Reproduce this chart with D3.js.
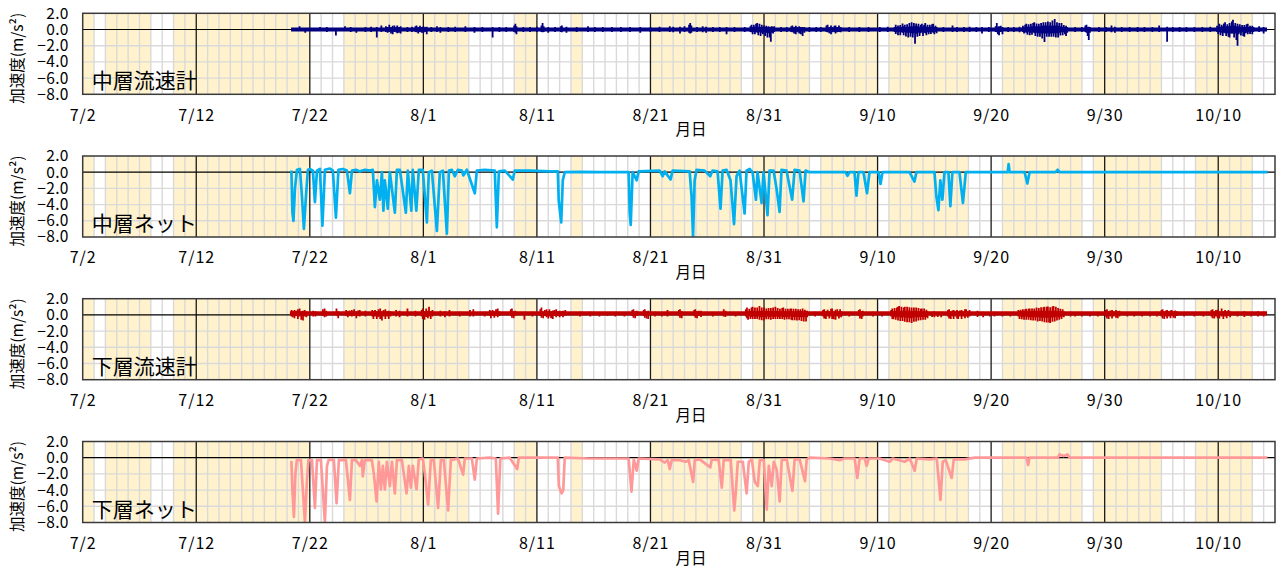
<!DOCTYPE html>
<html><head><meta charset="utf-8">
<script src="https://cdn.jsdelivr.net/npm/d3@7"></script>
<style>
body{margin:0;background:#fff}
svg{display:block}
text{font-family:"Noto Sans CJK JP","Noto Sans",sans-serif;fill:#000}
</style>
</head><body>
<svg id="chart" width="1278" height="568"></svg>
<script>
// ---------- data ----------
const tickLabels = ["7/2","7/12","7/22","8/1","8/11","8/21","8/31","9/10","9/20","9/30","10/10"];
const tickDates  = ["7/2","7/12","7/22","8/1","8/11","8/21","8/31","9/10","9/20","9/30","10/10"];
const domainDates = ["7/2","10/15"];
const yTicks = [2,0,-2,-4,-6,-8];
const panelNames = ["中層流速計","中層ネット","下層流速計","下層ネット"];
const seriesColors = ["#000080","#00B0F0","#C00000","#FF9999"];
const yTitle = "加速度(m/s²)";
const xTitle = "月日";

// shaded periods (start/end dates)
const shadeStart = ["7/2","7/4","7/10","7/25","8/9","8/14","8/21","8/30","9/5","9/11","9/21","9/29","10/8"];
const shadeEnd   = ["7/3","7/8","7/22","8/5","8/11","8/15","8/29","9/4","9/10","9/18","9/28","10/5","10/13"];

// time = days since 7/2 00:00
// 中層流速計 : record span, base level, [day, max, min] of the fluctuation
const midMeterSpan = [18.35, 104.3];
const midMeterBase = 0.0;
const midMeterRange = [[19.1,0.4,-0.2],[19.6,0.2,-0.4],[20.9,0.3,-0.2],[21.5,0.3,-0.3],[22.3,0.2,-0.75],[23.1,0.4,-0.2],[23.6,0.3,-0.3],[24.1,0.2,-0.4],[24.9,0.3,-0.3],[25.4,0.35,-0.3],[25.9,0.3,-1.0],[26.3,0.5,-0.3],
[26.7,0.4,-0.3],[26.85,0.3,-0.4],[27.0,0.6,-0.3],[27.15,0.3,-0.5],[27.3,0.45,-0.6],[27.45,0.5,-0.3],[27.6,0.3,-0.35],[27.7,0.5,-0.45],[27.85,0.3,-0.4],[28.0,0.4,-0.5],
[28.6,0.3,-0.3],[29.0,0.35,-0.3],
[29.3,0.4,-0.3],[29.4,0.5,-0.35],[29.55,0.3,-0.5],[29.7,0.45,-0.3],[29.85,0.3,-0.4],[30.0,0.4,-0.45],[30.15,0.3,-0.3],[30.3,0.35,-0.6],
[30.7,0.3,-0.3],[31.2,0.4,-0.3],[31.5,0.3,-0.4],[32.2,0.3,-0.3],[32.8,0.35,-0.3],[33.7,0.4,-0.3],[34.5,0.3,-0.4],[35.2,0.3,-0.3],[36.1,0.3,-1.0],[36.7,0.3,-0.3],[37.3,0.3,-0.3],[38.0,0.5,-0.3],[38.1,0.7,-0.4],[38.2,0.4,-0.6],[38.8,0.3,-0.3],[39.4,0.3,-0.3],[40.0,0.35,-0.3],[40.4,0.5,-0.3],[40.5,0.8,-0.35],[40.6,0.4,-0.3],[41.0,0.3,-0.4],[41.6,0.3,-0.3],[42.1,0.4,-0.3],[42.2,0.5,-0.35],[42.6,0.35,-0.4],[43.5,0.3,-0.3],[44.5,0.4,-0.3],[45.1,0.3,-0.3],[45.8,0.3,-0.3],[46.6,0.3,-0.3],[47.4,0.3,-0.3],[48.2,0.3,-0.3],[49.1,0.3,-0.4],[50.0,0.3,-0.3],[50.8,0.35,-0.3],[51.7,0.4,-0.3],[52.0,0.35,-0.35],[52.6,0.35,-0.5],[53.0,0.4,-0.3],[53.4,0.6,-0.4],[53.5,0.8,-0.5],[53.6,0.5,-0.4],[54.1,0.3,-0.3],[54.6,0.4,-0.35],[54.9,0.35,-0.4],[55.5,0.3,-0.3],[56.1,0.3,-0.3],[56.7,0.3,-0.6],[57.4,0.3,-0.3],[58.3,0.3,-0.3],
[58.8,0.4,-0.3],[58.9,0.6,-0.35],[59.0,0.3,-0.6],[59.1,0.6,-0.3],[59.2,0.35,-0.6],[59.3,0.7,-0.3],[59.4,0.8,-0.4],[59.5,0.35,-0.7],[59.6,0.7,-0.35],[59.7,0.3,-0.8],[59.8,0.6,-0.4],[59.9,0.35,-0.6],[60.0,0.5,-0.35],[60.1,0.3,-0.8],[60.2,0.45,-0.4],[60.3,0.3,-1.0],[60.4,0.4,-0.45],[60.5,0.3,-1.0],[60.6,0.35,-1.5],[60.7,0.4,-0.4],[60.8,0.3,-0.5],[60.9,0.4,-0.3],
[61.5,0.3,-0.3],[62.0,0.3,-0.3],
[62.4,0.4,-0.3],[62.5,0.5,-0.35],[62.65,0.3,-0.5],[62.8,0.45,-0.6],[62.95,0.3,-0.35],[63.1,0.4,-0.5],[63.25,0.3,-0.6],[63.4,0.3,-0.8],[63.55,0.3,-0.4],
[64.0,0.3,-0.3],[64.6,0.3,-0.3],[65.0,0.3,-0.3],
[65.5,0.5,-0.3],[65.6,0.6,-0.35],[65.75,0.3,-0.45],[65.9,0.5,-0.6],[66.05,0.3,-0.35],[66.2,0.45,-0.3],[66.3,0.5,-0.5],[66.45,0.3,-0.35],[66.6,0.5,-0.3],[66.75,0.3,-0.35],
[67.5,0.3,-0.3],[68.4,0.3,-0.3],[69.2,0.3,-0.3],[70.2,0.3,-0.3],[70.9,0.35,-0.3],
[71.5,0.3,-0.3],[71.6,0.6,-0.55],[71.7,0.3,-0.35],[71.8,0.5,-0.7],[71.9,0.35,-0.3],[72.0,0.55,-0.7],[72.1,0.3,-0.35],[72.2,0.75,-0.4],[72.3,0.4,-0.7],[72.4,0.6,-0.35],[72.5,0.3,-0.85],[72.6,0.65,-0.4],[72.7,0.35,-1.0],[72.8,0.8,-0.4],[72.9,0.4,-0.9],[73.0,0.9,-0.45],[73.1,0.4,-1.0],[73.2,0.8,-0.5],[73.3,0.45,-1.75],[73.4,0.75,-0.5],[73.5,0.4,-0.9],[73.6,0.7,-0.4],[73.7,0.35,-0.8],[73.8,0.6,-0.45],[73.9,0.7,-0.35],[74.0,0.4,-0.8],[74.1,0.6,-0.4],[74.2,0.8,-0.45],[74.3,0.35,-0.7],[74.4,0.6,-0.35],[74.5,0.3,-0.6],[74.6,0.6,-0.35],[74.7,0.35,-0.55],[74.8,0.65,-0.3],[74.9,0.7,-0.4],[75.0,0.3,-0.6],[75.1,0.45,-0.3],[75.2,0.3,-0.45],
[75.8,0.3,-0.3],[76.6,0.5,-0.3],[77.0,0.3,-0.3],[77.6,0.3,-0.3],[78.1,0.35,-0.3],[78.7,0.3,-0.3],[79.2,0.3,-0.5],[79.8,0.3,-0.3],
[80.4,0.4,-0.3],[80.5,0.8,-0.35],[80.6,0.35,-0.6],[80.7,0.4,-0.7],[80.85,0.45,-0.3],[81.0,0.3,-0.6],
[81.5,0.3,-0.3],[82.0,0.3,-0.3],[82.5,0.35,-0.35],
[82.8,0.45,-0.3],[82.9,0.3,-0.5],[83.0,0.6,-0.35],[83.1,0.7,-0.4],[83.2,0.35,-0.65],[83.3,0.65,-0.35],[83.4,0.35,-0.7],[83.5,0.7,-0.4],[83.6,0.4,-0.65],[83.7,0.8,-0.35],[83.8,0.9,-0.45],[83.9,0.4,-0.8],[84.0,0.75,-0.4],[84.1,0.4,-0.9],[84.2,0.7,-0.45],[84.3,0.4,-0.9],[84.4,0.8,-0.5],[84.5,0.45,-1.1],[84.6,0.9,-0.5],[84.7,0.5,-1.55],[84.8,0.9,-0.5],[84.9,0.5,-0.9],[85.0,1.0,-0.45],[85.1,0.5,-0.9],[85.2,0.9,-0.5],[85.3,0.45,-0.9],[85.4,1.1,-0.45],[85.5,0.5,-0.9],[85.6,1.3,-0.5],[85.7,0.5,-1.0],[85.8,0.9,-0.45],[85.9,0.45,-1.0],[86.0,0.8,-0.4],[86.1,0.4,-0.75],[86.2,0.8,-0.35],[86.3,0.35,-0.7],[86.4,0.55,-0.35],[86.5,0.3,-0.6],[86.6,0.45,-0.8],[86.7,0.3,-0.4],
[87.4,0.3,-0.3],[88.0,0.3,-0.3],[88.3,0.5,-0.3],[88.4,0.6,-0.4],[88.5,0.3,-0.8],[88.6,0.35,-1.3],[88.7,0.3,-0.4],
[89.5,0.3,-0.3],[90.1,0.3,-0.3],[90.6,0.5,-0.35],[90.9,0.35,-0.4],[91.5,0.3,-0.3],[92.2,0.3,-0.3],[92.9,0.3,-0.3],[93.5,0.3,-0.3],[94.2,0.3,-0.3],[94.8,0.5,-0.3],[95.5,0.35,-1.5],[96.0,0.3,-0.3],[96.6,0.3,-0.3],[97.2,0.3,-0.3],[97.9,0.3,-0.3],[98.6,0.3,-0.3],[99.3,0.35,-0.3],
[99.9,0.45,-0.3],[100.0,0.3,-0.55],[100.1,0.7,-0.35],[100.2,0.35,-0.7],[100.3,0.6,-0.4],[100.4,0.4,-0.8],[100.5,0.75,-0.4],[100.6,0.9,-0.45],[100.7,0.4,-0.8],[100.8,0.65,-0.45],[100.9,0.4,-0.9],[101.0,0.8,-1.0],[101.1,0.45,-0.5],[101.2,1.0,-0.5],[101.3,1.2,-0.5],[101.4,0.5,-1.0],[101.5,0.8,-0.5],[101.6,0.4,-1.3],[101.7,0.7,-2.0],[101.8,0.4,-0.6],[101.9,0.65,-0.4],[102.0,0.35,-0.75],[102.1,0.55,-0.35],[102.2,0.3,-0.8],[102.3,0.55,-0.9],[102.4,0.35,-0.45],[102.5,0.65,-0.4],[102.6,0.7,-0.6],[102.7,0.3,-0.35],[102.8,0.45,-0.55],[102.9,0.3,-0.3],[103.0,0.45,-0.6],[103.1,0.3,-0.3],
[103.6,0.4,-0.3],[104.0,0.3,-0.5]];

// 中層ネット : [day, m/s2]
const midNet = [[18.38,0.2],[18.47,-5.0],[18.56,-6.0],[18.69,-2.0],[18.87,0.3],[19.13,0.4],[19.31,-3.0],[19.48,-7.0],[19.66,-3.0],[19.83,0.3],[20.01,0.4],[20.27,0.2],[20.45,-3.7],[20.63,0.2],[20.89,0.4],[21.11,-6.6],[21.33,0.3],[21.77,0.45],[22.03,0.2],[22.30,-5.6],[22.52,0.3],[22.91,0.4],[23.27,0.2],[23.53,-2.6],[23.71,0.2],[24.06,0.3],[24.41,0.1],[24.85,0.3],[25.29,0.2],[25.55,0.3],[25.73,-4.3],[25.91,-1.0],[26.17,-3.4],[26.35,0.0],[26.48,-4.75],[26.61,-1.0],[26.87,-4.5],[27.05,0.0],[27.49,-5.0],[27.67,0.3],[27.93,0.3],[28.46,-5.0],[28.63,0.2],[28.94,-4.75],[29.07,0.3],[29.38,-4.75],[29.60,0.3],[29.95,0.3],[30.31,-6.2],[30.48,0.0],[30.75,0.2],[31.19,-7.25],[31.45,0.0],[31.72,0.2],[32.07,-7.6],[32.25,0.2],[32.51,0.3],[32.77,-0.5],[33.04,0.3],[33.39,0.2],[33.52,-0.4],[33.83,0.3],[34.53,-2.6],[34.71,0.2],[35.41,0.3],[36.29,0.2],[36.47,-6.8],[36.65,0.1],[37.17,0.2],[37.88,-0.9],[38.05,0.2],[39.37,0.2],[41.13,0.1],[41.84,0.1],[41.92,-3.5],[42.14,-6.2],[42.28,-1.0],[42.45,0.0],[43.77,0.05],[45.53,0.0],[48.08,0.0],[48.17,-5.0],[48.26,-6.5],[48.43,0.0],[48.79,-1.0],[48.96,0.1],[50.81,0.2],[51.07,-0.5],[51.25,0.1],[51.77,-0.9],[51.95,0.2],[53.45,0.1],[53.62,-3.0],[53.75,-8.0],[53.89,-1.0],[54.06,0.3],[54.77,0.2],[55.26,-0.5],[55.47,0.2],[55.91,0.1],[56.17,-4.5],[56.35,0.2],[56.70,0.3],[57.05,-1.0],[57.36,-6.4],[57.58,-0.5],[57.85,0.2],[58.29,-5.1],[58.46,0.2],[58.73,0.4],[58.99,0.0],[59.29,-3.4],[59.43,0.0],[59.79,-3.8],[59.96,0.0],[60.31,-5.3],[60.49,0.2],[60.84,0.2],[61.10,-2.0],[61.37,-4.9],[61.54,0.3],[61.98,0.2],[62.48,-3.4],[62.69,0.3],[63.13,0.2],[63.48,-3.6],[63.66,0.2],[64.01,0.0],[67.18,0.0],[67.35,-0.45],[67.53,0.0],[67.97,0.0],[68.14,-2.9],[68.32,0.0],[68.76,0.0],[69.07,-2.6],[69.29,0.0],[70.08,0.0],[70.26,-1.45],[70.43,0.0],[72.81,0.0],[73.25,-1.15],[73.42,0.0],[75.01,0.0],[75.18,-3.0],[75.36,-4.7],[75.53,-1.0],[75.71,-3.4],[75.89,0.0],[76.24,0.0],[76.41,-4.2],[76.59,0.0],[77.21,0.0],[77.52,-3.8],[77.77,0.0],[81.46,0.0],[81.54,1.0],[81.63,0.0],[82.95,0.0],[83.19,-1.4],[83.39,0.0],[85.68,0.0],[85.86,0.3],[86.03,0.0],[104.34,0.0]];

// 下層流速計 : record span, base level, [day, max, min] of the fluctuation
const lowMeterSpan = [18.25, 104.3];
const lowMeterBase = 0.2;
const lowMeterRange = [[18.4,0.6,-0.2],[18.5,0.45,-0.3],[18.65,0.6,-0.4],[18.8,0.5,-0.15],[18.95,0.7,-0.5],[19.1,0.8,-0.2],[19.25,0.45,-0.6],[19.4,0.5,-0.7],[19.55,0.6,-0.2],[19.7,0.45,-0.3],
[20.3,0.5,-0.2],[20.5,0.45,-0.2],[21.15,0.7,-0.15],[21.3,0.8,-0.3],[21.45,0.5,-0.2],[22.35,0.8,-0.15],[22.5,0.45,-0.4],
[23.2,0.6,-0.15],[23.35,0.45,-0.3],[23.5,0.55,-0.15],[23.7,0.6,-0.2],[23.9,0.7,-0.15],[24.1,0.45,-0.4],[24.25,0.55,-0.15],[24.4,0.6,-0.2],[24.9,0.5,-0.2],
[25.5,0.6,-0.2],[25.6,0.45,-0.5],[25.75,0.6,-0.2],[25.9,0.45,-0.5],[26.05,0.7,-0.25],[26.2,0.8,-0.5],[26.35,0.45,-0.7],[26.5,0.6,-0.2],[26.65,0.7,-0.5],[26.8,0.45,-0.2],[26.95,0.5,-0.5],[27.1,0.45,-0.2],
[27.6,0.6,-0.2],[27.9,0.5,-0.3],[28.6,0.8,-0.2],[29.3,0.5,-0.2],
[29.85,0.6,-0.2],[29.95,0.8,-0.5],[30.1,0.45,-0.6],[30.25,0.8,-0.25],[30.4,0.5,-0.4],[30.5,1.0,-0.2],[30.65,0.45,-0.5],[30.8,0.6,-0.2],
[31.5,0.5,-0.2],[31.9,0.45,-0.3],[32.3,0.6,-0.2],[33.2,0.4,-0.2],[34.1,0.6,-0.2],[34.4,0.7,-0.2],[35.4,0.4,-0.2],
[35.85,0.6,-0.15],[35.95,0.45,-0.4],[36.1,0.6,-0.15],[36.25,0.45,-0.35],[36.4,0.7,-0.15],[36.55,0.8,-0.3],[36.7,0.45,-0.15],
[37.7,0.7,-0.15],[37.8,0.8,-0.35],[37.95,0.45,-0.4],[38.1,0.5,-0.15],[38.9,0.4,-0.6],[39.6,0.4,-0.2],
[40.3,0.7,-0.15],[40.4,0.9,-0.35],[40.55,0.45,-0.4],[40.7,0.6,-0.15],[40.85,0.7,-0.3],[41.0,0.45,-0.45],[41.1,0.7,-0.2],[41.25,0.45,-0.4],[41.4,0.55,-0.5],[41.55,0.6,-0.15],[41.7,0.7,-0.3],[41.85,0.45,-0.15],[42.0,0.5,-0.3],[42.15,0.45,-0.15],[42.3,0.5,-0.3],[42.5,0.6,-0.15],
[43.8,0.4,-0.2],[44.7,0.4,-0.2],[45.5,0.3,-0.2],[46.2,0.35,-0.15],[46.9,0.35,-0.2],[47.7,0.3,-0.2],
[48.4,0.6,-0.15],[48.5,0.7,-0.35],[48.65,0.45,-0.4],[48.8,0.5,-0.15],[49.4,0.6,-0.15],[49.5,0.7,-0.35],[49.65,0.45,-0.45],[49.8,0.5,-0.5],
[50.4,0.4,-0.2],[51.0,0.35,-0.2],[51.5,0.6,-0.2],
[52.5,0.6,-0.15],[52.6,0.7,-0.35],[52.75,0.45,-0.4],[53.85,0.6,-0.15],[53.95,0.7,-0.35],[54.1,0.45,-0.4],[54.25,0.5,-0.15],[54.45,0.5,-0.25],
[55.5,0.35,-0.2],[56.45,0.7,-0.2],[56.6,0.5,-0.25],[57.5,0.35,-0.2],
[58.4,0.7,-0.2],[58.5,0.9,-0.4],[58.6,0.45,-0.6],[58.7,0.75,-0.2],[58.8,0.5,-0.5],[58.9,0.9,-0.25],[59.0,1.0,-0.5],[59.1,0.5,-0.2],[59.2,0.9,-0.5],[59.3,0.45,-0.25],[59.4,0.9,-0.5],[59.5,0.5,-0.2],[59.6,1.1,-0.6],[59.7,0.5,-0.3],[59.8,0.9,-0.65],[59.9,0.5,-0.25],[60.0,0.9,-0.7],[60.1,0.45,-0.3],[60.2,0.8,-0.55],[60.3,0.5,-0.2],[60.4,0.85,-0.55],[60.5,0.45,-0.25],[60.6,0.85,-0.6],[60.7,0.5,-0.2],[60.8,0.9,-0.5],[60.9,0.45,-0.25],[61.0,1.0,-0.5],[61.1,0.5,-0.2],[61.2,0.85,-0.5],[61.3,0.45,-0.25],[61.4,0.75,-0.5],[61.5,0.45,-0.2],[61.6,0.85,-0.5],[61.7,0.9,-0.3],[61.8,0.45,-0.6],[61.9,0.75,-0.25],[62.0,0.45,-0.55],[62.1,0.75,-0.25],[62.2,0.45,-0.55],[62.3,0.75,-0.2],[62.4,0.8,-0.6],[62.5,0.45,-0.65],[62.6,0.75,-0.25],[62.7,0.4,-0.65],[62.8,0.75,-0.3],[62.9,0.45,-0.7],[63.0,0.7,-0.25],[63.1,0.45,-0.65],[63.2,0.7,-0.3],[63.3,0.45,-0.75],[63.4,0.8,-0.3],[63.5,0.45,-0.8],[63.6,0.65,-0.3],[63.7,0.45,-0.8],[63.8,0.5,-0.3],
[64.5,0.4,-0.2],
[65.2,0.6,-0.2],[65.3,0.7,-0.45],[65.45,0.45,-0.5],[65.6,0.65,-0.2],[65.75,0.45,-0.45],[65.9,0.75,-0.2],[66.0,0.8,-0.5],[66.15,0.45,-0.55],[66.3,0.65,-0.6],[66.45,0.7,-0.2],[66.6,0.45,-0.45],[66.7,0.7,-0.2],[66.8,0.45,-0.3],
[67.5,0.35,-0.2],[68.35,0.6,-0.15],[68.45,0.7,-0.45],[68.6,0.45,-0.5],[68.7,0.5,-0.2],[69.6,0.4,-0.2],[70.4,0.35,-0.2],
[71.2,0.6,-0.2],[71.3,0.8,-0.5],[71.4,0.45,-0.55],[71.5,0.85,-0.25],[71.6,0.5,-0.6],[71.7,0.9,-0.3],[71.8,1.0,-0.7],[71.9,1.1,-0.3],[72.0,0.5,-0.75],[72.1,1.0,-0.35],[72.2,0.5,-0.75],[72.3,0.9,-0.3],[72.4,1.0,-0.85],[72.5,0.5,-0.35],[72.6,1.0,-0.9],[72.7,0.55,-0.35],[72.8,0.95,-0.9],[72.9,0.5,-0.4],[73.0,0.9,-1.0],[73.1,0.5,-0.35],[73.2,0.9,-0.85],[73.3,0.5,-0.3],[73.4,0.9,-0.8],[73.5,0.45,-0.3],[73.6,0.85,-0.7],[73.7,0.45,-0.3],[73.8,0.75,-0.65],[73.9,0.8,-0.25],[74.0,0.45,-0.6],[74.1,0.8,-0.25],[74.2,0.45,-0.6],[74.3,0.65,-0.25],[74.4,0.45,-0.4],
[74.8,0.4,-0.25],[75.0,0.45,-0.3],[75.3,0.4,-0.25],[75.6,0.4,-0.3],
[76.2,0.6,-0.2],[76.3,0.7,-0.45],[76.45,0.45,-0.5],[76.6,0.55,-0.2],[76.7,0.6,-0.5],[76.85,0.45,-0.2],[77.0,0.6,-0.45],[77.1,0.45,-0.5],[77.25,0.55,-0.2],[77.4,0.6,-0.5],[77.55,0.45,-0.2],[77.7,0.7,-0.4],[77.8,0.7,-0.2],[77.95,0.45,-0.35],[78.1,0.6,-0.2],
[78.8,0.5,-0.25],[79.3,0.4,-0.3],[79.9,0.35,-0.2],[80.3,0.4,-0.2],[81.0,0.35,-0.2],[81.7,0.35,-0.2],
[82.4,0.6,-0.2],[82.5,0.45,-0.5],[82.6,0.65,-0.2],[82.7,0.45,-0.55],[82.8,0.7,-0.25],[82.9,0.45,-0.6],[83.0,0.7,-0.2],[83.1,0.75,-0.6],[83.2,0.45,-0.25],[83.3,0.75,-0.6],[83.4,0.8,-0.3],[83.5,0.45,-0.65],[83.6,0.8,-0.3],[83.7,0.5,-0.7],[83.8,0.8,-0.3],[83.9,0.5,-0.7],[84.0,0.9,-0.3],[84.1,0.5,-0.8],[84.2,0.85,-0.3],[84.3,0.5,-0.75],[84.4,0.95,-0.35],[84.5,0.5,-0.8],[84.6,0.95,-0.35],[84.7,1.0,-0.9],[84.8,0.5,-0.35],[84.9,1.0,-0.95],[85.0,1.05,-0.35],[85.1,0.5,-0.95],[85.2,0.95,-1.0],[85.3,0.5,-0.35],[85.4,1.05,-0.85],[85.5,1.1,-0.3],[85.6,0.5,-0.8],[85.7,1.0,-0.3],[85.8,0.45,-0.7],[85.9,0.85,-0.3],[86.0,0.45,-0.6],[86.1,0.75,-0.25],[86.2,0.45,-0.5],[86.3,0.7,-0.2],[86.4,0.45,-0.3],
[87.0,0.4,-0.2],[87.4,0.35,-0.2],[88.0,0.35,-0.2],[88.7,0.35,-0.2],[89.4,0.35,-0.2],
[90.1,0.6,-0.2],[90.2,0.7,-0.45],[90.35,0.45,-0.5],[90.5,0.55,-0.2],[90.65,0.6,-0.45],[90.8,0.45,-0.2],[91.0,0.6,-0.35],[91.15,0.45,-0.4],[91.3,0.5,-0.2],
[92.0,0.35,-0.2],[92.6,0.35,-0.2],[93.3,0.35,-0.2],[94.0,0.35,-0.2],[94.6,0.4,-0.2],
[95.0,0.6,-0.2],[95.1,0.7,-0.45],[95.25,0.45,-0.5],[95.4,0.55,-0.2],[95.5,0.6,-0.45],[95.65,0.45,-0.2],[95.8,0.55,-0.4],[95.9,0.6,-0.15],[96.05,0.45,-0.35],[96.2,0.55,-0.4],[96.35,0.45,-0.15],
[97.0,0.35,-0.2],[97.9,0.35,-0.2],[98.7,0.35,-0.2],
[99.4,0.6,-0.2],[99.5,0.7,-0.4],[99.65,0.45,-0.45],[99.8,0.6,-0.2],[99.95,0.65,-0.4],[100.1,0.45,-0.45],[100.3,0.8,-0.2],[100.45,0.45,-0.5],[100.6,0.6,-0.2],[100.75,0.45,-0.4],[100.9,0.6,-0.15],[101.05,0.45,-0.3],
[101.7,0.4,-0.2],[102.3,0.45,-0.25],[102.9,0.4,-0.2],[103.5,0.45,-0.2],[104.0,0.4,-0.2]];

// 下層ネット : [day, m/s2]
const lowNet = [[18.38,-0.4],[18.47,-4.1],[18.60,-7.3],[18.73,-2.0],[18.86,-0.3],[19.22,-0.3],[19.39,-4.0],[19.57,-8.0],[19.74,-3.0],[19.88,-0.3],[20.19,-0.3],[20.45,-6.2],[20.63,-0.3],[20.98,-0.3],[21.15,-4.0],[21.33,-8.0],[21.51,-1.0],[21.68,-0.2],[22.12,-0.3],[22.36,-5.6],[22.56,-0.3],[23.18,-0.3],[23.53,-5.2],[23.71,-0.3],[24.06,-0.3],[24.41,-1.0],[24.59,-0.3],[24.67,-2.3],[24.85,-0.3],[25.46,-0.3],[25.64,-2.0],[25.88,-5.4],[26.08,-0.5],[26.26,-3.9],[26.43,-1.0],[26.61,-3.9],[26.79,-0.5],[27.05,-3.5],[27.23,-0.5],[27.49,-4.4],[27.67,-0.3],[28.11,-0.3],[28.28,-2.0],[28.52,-4.4],[28.72,-1.0],[28.90,-3.7],[29.07,-1.0],[29.40,-3.9],[29.60,-0.2],[29.96,-0.1],[30.13,-2.0],[30.42,-5.8],[30.66,-0.3],[30.92,-0.3],[31.30,-6.2],[31.54,-0.3],[31.80,-0.3],[32.18,-6.5],[32.42,-0.3],[33.04,-0.1],[33.50,-2.1],[33.65,-0.1],[34.27,-0.1],[34.53,-2.7],[34.71,-0.1],[35.85,0.0],[36.38,-0.1],[36.58,-6.9],[36.78,-0.1],[37.61,0.0],[38.26,-1.4],[38.41,0.0],[40.69,0.0],[41.84,0.0],[41.93,-3.5],[42.17,-4.4],[42.32,-4.0],[42.45,0.0],[44.65,-0.1],[47.30,-0.1],[48.08,-0.1],[48.33,-4.2],[48.53,-0.2],[48.79,-1.6],[48.96,-0.1],[50.81,-0.2],[51.26,-0.6],[51.52,-0.3],[51.70,-1.4],[51.87,-0.3],[52.58,-0.3],[53.11,-0.5],[53.37,-0.3],[53.76,-3.0],[53.90,-0.3],[54.34,-0.2],[55.27,-1.2],[55.40,-0.2],[56.01,-0.3],[56.28,-3.7],[56.45,-0.3],[57.07,-0.3],[57.25,-4.0],[57.38,-6.5],[57.51,-4.4],[57.69,-0.5],[58.13,-0.5],[58.47,-4.4],[58.66,-0.5],[58.92,-0.2],[59.19,-3.0],[59.45,-3.5],[59.63,-0.3],[59.98,-0.3],[60.24,-6.4],[60.42,-1.0],[60.68,-3.5],[60.86,-0.5],[61.12,-1.5],[61.38,-5.4],[61.56,-0.3],[62.00,-0.2],[62.50,-4.1],[62.70,-0.2],[63.14,-0.2],[63.61,-2.9],[63.76,-0.2],[64.02,0.0],[65.79,-0.1],[66.66,-0.3],[67.10,-0.1],[67.98,-0.1],[68.22,-2.5],[68.42,-0.1],[68.86,-0.1],[69.04,-1.0],[69.22,-0.1],[70.18,-0.1],[71.07,-0.5],[71.33,-0.1],[72.39,-0.5],[72.83,-0.1],[73.27,-1.6],[73.45,-0.1],[74.59,-0.2],[75.21,-0.1],[75.54,-5.2],[75.74,-0.5],[76.00,-0.3],[76.53,-2.5],[76.71,-0.2],[77.68,-0.2],[78.56,0.0],[83.13,0.0],[83.26,-0.9],[83.39,0.0],[85.86,0.0],[86.03,0.4],[86.38,0.2],[86.74,0.4],[86.91,0.0],[104.34,0.0]];

// ---------- drawing ----------
const svg = d3.select("#chart");
const md = s => { const [m,d] = s.split("/").map(Number); return (Date.UTC(2000,m-1,d) - Date.UTC(2000,6,2)) / 864e5; };

const xL = 82.7, xR = 1275, panelH = 81;
const tops = [13.3, 156, 298.7, 441.5];
const x = d3.scaleLinear().domain(domainDates.map(md)).range([xL, xR]);
const y = d3.scaleLinear().domain([-8, 2]).range([panelH, 0]);
const tickDays = tickDates.map(md);
const dayMax = md(domainDates[1]);
const minorDays = d3.range(1, dayMax);
const shades = shadeStart.map((s,i) => [md(s), md(shadeEnd[i])]);
const numFont = '"Liberation Sans", Arial, sans-serif';

const series = [
  {type:"noise", span: midMeterSpan, base: midMeterBase, range: midMeterRange},
  {type:"line", pts: midNet},
  {type:"noise", span: lowMeterSpan, base: lowMeterBase, range: lowMeterRange},
  {type:"line", pts: lowNet}
];

tops.forEach((top, i) => {
  const g = svg.append("g").attr("transform", `translate(0,${top})`);
  const clipId = "clip" + i;
  g.append("clipPath").attr("id", clipId).append("rect")
    .attr("x", xL).attr("y", 0).attr("width", xR - xL).attr("height", panelH);

  // shading
  g.append("g").selectAll("rect").data(shades).join("rect")
    .attr("x", d => x(d[0])).attr("width", d => x(d[1]) - x(d[0]))
    .attr("y", 0).attr("height", panelH).attr("fill", "#FFF2CC");

  // minor vertical grid
  g.append("g").selectAll("line").data(minorDays.filter(d => d % 10 !== 0)).join("line")
    .attr("x1", d => x(d)).attr("x2", d => x(d)).attr("y1", 0).attr("y2", panelH)
    .attr("stroke", "#D9D9D9").attr("stroke-width", 1.4);
  // horizontal grid
  g.append("g").selectAll("line").data(yTicks.filter(v => v !== 0 && v !== 2 && v !== -8)).join("line")
    .attr("x1", xL).attr("x2", xR).attr("y1", d => y(d)).attr("y2", d => y(d))
    .attr("stroke", "#D9D9D9").attr("stroke-width", 1.4);
  // major vertical lines
  g.append("g").selectAll("line").data(tickDays.slice(1)).join("line")
    .attr("x1", d => x(d)).attr("x2", d => x(d)).attr("y1", 0).attr("y2", panelH)
    .attr("stroke", "#1a1a1a").attr("stroke-width", 1.3);
  // zero line
  g.append("line").attr("x1", xL).attr("x2", xR).attr("y1", y(0)).attr("y2", y(0))
    .attr("stroke", "#000").attr("stroke-width", 1.2);

  // data
  const s = series[i];
  const dg = g.append("g").attr("clip-path", `url(#${clipId})`);
  const col = seriesColors[i];
  if (s.type === "noise") {
    dg.append("line").attr("x1", x(s.span[0])).attr("x2", x(s.span[1]))
      .attr("y1", y(s.base)).attr("y2", y(s.base))
      .attr("stroke", col).attr("stroke-width", 4.2);
    dg.append("g").selectAll("line").data(s.range).join("line")
      .attr("x1", d => x(d[0])).attr("x2", d => x(d[0]))
      .attr("y1", d => y(d[1])).attr("y2", d => y(d[2]))
      .attr("stroke", col).attr("stroke-width", 1.8);
  } else {
    const line = d3.line().x(d => x(d[0])).y(d => y(d[1]));
    dg.append("path").datum(s.pts).attr("d", line)
      .attr("fill", "none").attr("stroke", col).attr("stroke-width", 2.7)
      .attr("stroke-linejoin", "round");
  }

  // frame
  g.append("rect").attr("x", xL).attr("y", 0).attr("width", xR - xL).attr("height", panelH)
    .attr("fill", "none").attr("stroke", "#3a3a3a").attr("stroke-width", 1.5);

  // y axis
  const ya = g.append("g").attr("transform", `translate(${xL},0)`)
    .call(d3.axisLeft(y).tickValues(yTicks).tickSize(0).tickPadding(14).tickFormat(d3.format(".1f")));
  ya.select(".domain").remove();
  ya.selectAll("text").attr("font-size", 15.5).attr("font-family", numFont)
    .attr("letter-spacing", 0.3).attr("fill", "#000");

  // x axis
  const xa = g.append("g").attr("transform", `translate(0,${panelH})`)
    .call(d3.axisBottom(x).tickValues(tickDays).tickSize(0).tickPadding(15).tickFormat((d, k) => tickLabels[k]));
  xa.select(".domain").remove();
  xa.selectAll("text").attr("font-size", 16).attr("font-family", numFont)
    .attr("letter-spacing", 1).attr("fill", "#000");

  // x title
  g.append("text").attr("x", 691).attr("y", panelH + 41).attr("text-anchor", "middle")
    .attr("font-size", 15.5).text(xTitle);

  // y title
  g.append("text").attr("transform", `translate(16,${panelH / 2 + 4.5}) rotate(-90)`)
    .attr("text-anchor", "middle").attr("dominant-baseline", "central")
    .attr("font-size", 15.5).text(yTitle);

  // panel name
  g.append("text").attr("x", 91.7).attr("y", 75).attr("font-size", 21).text(panelNames[i]);
});
</script>
</body></html>
